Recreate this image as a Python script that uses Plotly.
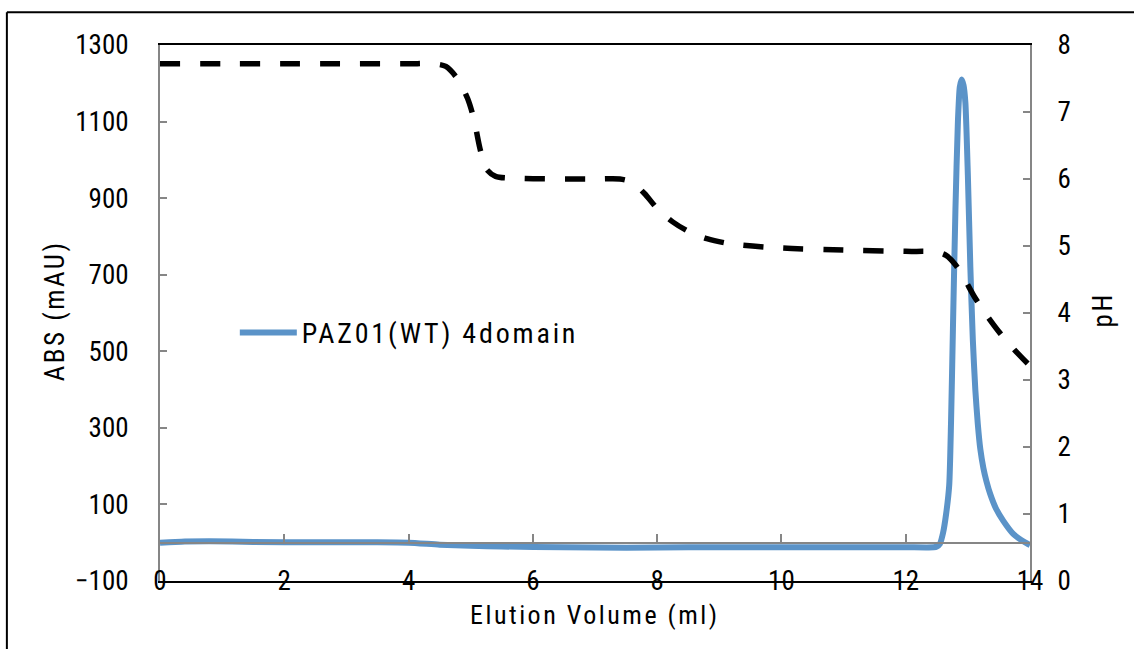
import plotly.graph_objects as go

# ---- data ----
abs_x = [0, 0.4, 0.8, 1.5, 2.5, 3.5, 4.0, 4.5, 5.0, 5.5, 6.5, 7.5, 8.5, 10.0, 11.0, 12.0, 12.45,
         12.5, 12.55, 12.6, 12.65, 12.7, 12.73, 12.76, 12.8, 12.84, 12.87, 12.9, 12.93, 12.96,
         13.0, 13.04, 13.08, 13.12, 13.16, 13.2, 13.25, 13.3, 13.36, 13.45, 13.57, 13.73, 13.85,
         13.95, 14.0]
abs_y = [0, 3, 4, 2, 1, 1, 0, -5, -8, -10, -12, -13, -12, -12, -12, -12, -12,
         -10, -3, 25, 75, 150, 320, 560, 870, 1100, 1190, 1210, 1195, 1150,
         960, 720, 530, 400, 310, 245, 195, 160, 127, 90, 57, 23, 8, -2, -6]

ph_x = [0, 1, 2, 3, 4, 4.4, 4.6, 4.8, 4.95, 5.05, 5.15, 5.25, 5.4, 5.8, 7.0, 7.4, 7.6, 7.8, 8.0,
        8.25, 8.5, 8.8, 9.2, 10.0, 11.0, 12.0, 12.5, 12.65, 12.8, 12.95, 13.1, 13.3, 13.5, 13.75, 14.0]
ph_y = [7.72, 7.72, 7.72, 7.72, 7.72, 7.72, 7.68, 7.48, 7.2, 6.9, 6.45, 6.15, 6.04, 6.01, 6.0, 6.0,
        5.95, 5.78, 5.56, 5.36, 5.22, 5.11, 5.03, 4.97, 4.94, 4.92, 4.91, 4.86, 4.72, 4.5, 4.25,
        3.97, 3.72, 3.45, 3.21]

x_ticks = [0, 2, 4, 6, 8, 10, 12, 14]
abs_ticks = [-100, 100, 300, 500, 700, 900, 1100, 1300]
ph_ticks = [0, 1, 2, 3, 4, 5, 6, 7, 8]

series_name = "PAZ01(WT) 4domain"

FONT = "Liberation Sans Narrow, Arial Narrow, Roboto Condensed, Liberation Sans, sans-serif"
BLUE = "#5B93C8"
GRAY = "#868686"

fig = go.Figure()
fig.add_trace(go.Scatter(
    x=abs_x, y=abs_y, mode="lines", name=f'<span style="letter-spacing:2.8px">{series_name}</span>',
    line=dict(color=BLUE, width=6, shape="spline", smoothing=0.6), xaxis="x", yaxis="y"))
fig.add_trace(go.Scatter(
    x=ph_x, y=ph_y, mode="lines", name="pH", showlegend=False,
    line=dict(color="black", width=5.5, dash="20px,20px", shape="spline", smoothing=0.8),
    xaxis="x", yaxis="y2"))
# invisible trace so the zero-crossing axis is drawn
fig.add_trace(go.Scatter(
    x=abs_x, y=abs_y, mode="lines", showlegend=False, hoverinfo="skip",
    line=dict(width=0), opacity=0, xaxis="x2", yaxis="y"))

zero_pos = (0 - abs_ticks[0]) / (abs_ticks[-1] - abs_ticks[0])

fig.update_layout(
    width=1134, height=649,
    margin=dict(l=160, r=104, t=45, b=68),
    paper_bgcolor="white", plot_bgcolor="white",
    font=dict(family=FONT, size=27, color="black"),
    showlegend=True,
    legend=dict(x=0.086, y=0.463, xanchor="left", yanchor="middle", itemwidth=57,
                bgcolor="rgba(0,0,0,0)", font=dict(size=28)),
    xaxis=dict(range=[0, 14], tickvals=x_ticks, showgrid=False, zeroline=False,
               showline=True, linecolor="black", linewidth=2, mirror=True,
               ticks="", ticklabelstandoff=-25),
    xaxis2=dict(range=[0, 14], tickvals=x_ticks, overlaying="x", anchor="free",
                position=zero_pos, showgrid=False, zeroline=False, showline=True,
                linecolor=GRAY, linewidth=2, ticks="inside", ticklen=8,
                tickcolor=GRAY, tickwidth=1.5, showticklabels=False),
    yaxis=dict(range=[-100, 1300], tickvals=abs_ticks, showgrid=False, zeroline=False,
               showline=True, linecolor=GRAY, linewidth=2, ticks="inside", ticklen=7,
               tickcolor=GRAY, tickwidth=1.5, ticklabelstandoff=24),
    yaxis2=dict(range=[0, 8], tickvals=ph_ticks, overlaying="y", side="right",
                anchor="x", showgrid=False, zeroline=False, showline=True,
                linecolor=GRAY, linewidth=2, ticks="inside", ticklen=7,
                tickcolor=GRAY, tickwidth=1.5, ticklabelstandoff=20),
    annotations=[
        dict(text='<span style="letter-spacing:2.5px">ABS (mAU)</span>', xref="paper", yref="paper",
             x=-0.1207, y=0.505, showarrow=False, textangle=-90, xanchor="center", yanchor="middle"),
        dict(text='<span style="letter-spacing:2.5px">pH</span>', xref="paper", yref="paper",
             x=1.084, y=0.505, showarrow=False, textangle=-90, xanchor="center", yanchor="middle"),
        dict(text='<span style="letter-spacing:2.5px">Elution Volume (ml)</span>', xref="paper", yref="paper",
             x=0.5, y=-0.064, showarrow=False, xanchor="center", yanchor="middle",
             font=dict(size=26)),
    ],
    shapes=[
        dict(type="line", xref="paper", yref="paper", x0=-0.176, x1=1.3, y0=1.061, y1=1.061,
             line=dict(color="black", width=2)),
        dict(type="line", xref="paper", yref="paper", x0=-0.176, x1=-0.176, y0=-0.3, y1=1.061,
             line=dict(color="black", width=2)),
    ],
)

fig.write_html("out.html")
